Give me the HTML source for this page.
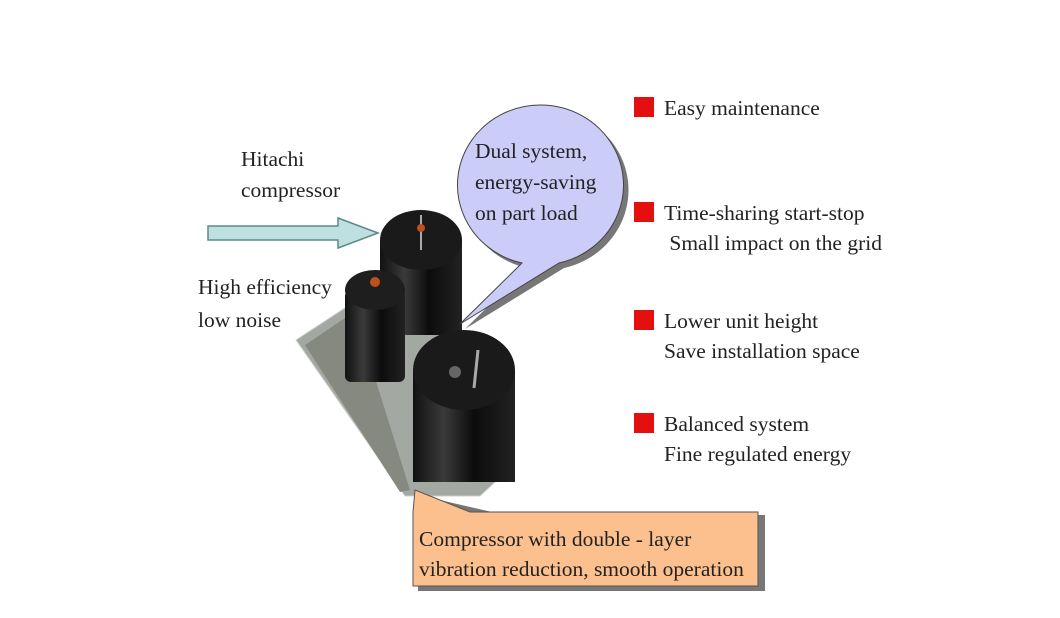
<!DOCTYPE html>
<html><head><style>
body{margin:0;width:1060px;height:618px;background:#fff;overflow:hidden;position:relative;font-family:"Liberation Serif",serif;}
.t{position:absolute;font-size:21.5px;color:#222;line-height:30px;white-space:nowrap}
.sq{position:absolute;width:20px;height:20px;background:#e41010}
</style></head><body>
<svg width="1060" height="618" style="position:absolute;left:0;top:0">
<defs>
<linearGradient id="cy" x1="0" x2="1"><stop offset="0" stop-color="#111"/><stop offset=".3" stop-color="#3a3a3a"/><stop offset=".6" stop-color="#0c0c0c"/><stop offset="1" stop-color="#222"/></linearGradient>
</defs>
<polygon points="208,226 338,226 338,218 378,233 338,248 338,240 208,240" fill="#bfe0e0" stroke="#5a8a8a" stroke-width="1.5"/>
<polygon points="296,340 345,308 445,330 508,470 480,496 405,496" fill="#a4a8a2" stroke="#ccc"/>
<polygon points="305,345 345,318 360,330 410,490 400,492" fill="#858980"/>
<rect x="380" y="240" width="82" height="95" fill="url(#cy)"/>
<ellipse cx="421" cy="240" rx="41" ry="30" fill="#1a1a1a"/>
<line x1="421" y1="215" x2="421" y2="250" stroke="#aaa" stroke-width="2"/>
<circle cx="421" cy="228" r="4" fill="#c0501a"/>
<rect x="345" y="290" width="60" height="92" rx="6" fill="url(#cy)"/>
<ellipse cx="375" cy="290" rx="30" ry="20" fill="#1e1e1e"/>
<circle cx="375" cy="282" r="5" fill="#c0501a"/>
<rect x="413" y="370" width="102" height="112" fill="url(#cy)"/>
<ellipse cx="464" cy="370" rx="51" ry="40" fill="#1a1a1a"/>
<line x1="478" y1="350" x2="474" y2="388" stroke="#aaa" stroke-width="3"/>
<circle cx="455" cy="372" r="6" fill="#666"/>
<path d="M522,263 A83,80 0 1 1 559,263 L460,324 Z" fill="#777" transform="translate(5,5)"/>
<path d="M522,263 A83,80 0 1 1 559,263 L460,324 Z" fill="#ccccf8" stroke="#444" stroke-width="1"/>
<path d="M413,512 L413,490 L500,510 L760,510 L760,586 L413,586Z" fill="#777" transform="translate(5,5)"/>
<path d="M413,512 L415,490 L470,512 L758,512 L758,586 L413,586Z" fill="#fbc08e" stroke="#555" stroke-width="1"/>
</svg>
<div class="t" style="left:241px;top:144px;line-height:31px">Hitachi<br>compressor</div>
<div class="t" style="left:198px;top:271px;line-height:33px">High efficiency<br>low noise</div>
<div class="t" style="left:475px;top:136px;line-height:31px">Dual system,<br>energy-saving<br>on part load</div>
<div class="sq" style="left:634px;top:97px"></div>
<div class="t" style="left:664px;top:93px">Easy maintenance</div>
<div class="sq" style="left:634px;top:202px"></div>
<div class="t" style="left:664px;top:198px">Time-sharing start-stop<br>&nbsp;Small impact on the grid</div>
<div class="sq" style="left:634px;top:310px"></div>
<div class="t" style="left:664px;top:306px">Lower unit height<br>Save installation space</div>
<div class="sq" style="left:634px;top:413px"></div>
<div class="t" style="left:664px;top:409px">Balanced system<br>Fine regulated energy</div>
<div class="t" style="left:419px;top:524px">Compressor with double - layer<br>vibration reduction, smooth operation</div>
</body></html>
